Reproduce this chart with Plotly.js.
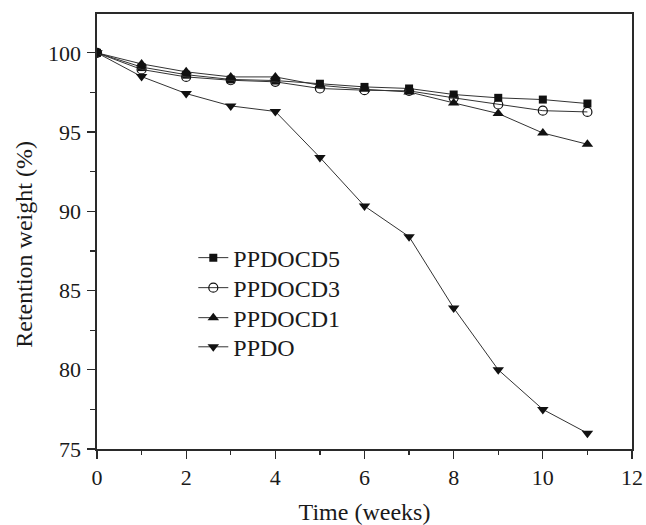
<!DOCTYPE html>
<html>
<head>
<meta charset="utf-8">
<script src="https://cdn.plot.ly/plotly-3.0.1.min.js"></script>
<style>
  html, body { margin: 0; padding: 0; background: #fff; }
  #chart { width: 646px; height: 525px; }
</style>
</head>
<body>
<div id="chart"></div>
<script>
// Data
const weeks = [0, 1, 2, 3, 4, 5, 6, 7, 8, 9, 10, 11];
const ppdocd5 = [100, 99.1, 98.62, 98.32, 98.25, 98.05, 97.85, 97.75, 97.37, 97.16, 97.05, 96.8];
const ppdocd3 = [100, 98.95, 98.48, 98.27, 98.17, 97.75, 97.64, 97.6, 97.16, 96.74, 96.35, 96.27];
const ppdocd1 = [100, 99.3, 98.8, 98.48, 98.48, 97.95, 97.7, 97.53, 96.84, 96.17, 94.94, 94.23];
const ppdo = [100, 98.5, 97.43, 96.65, 96.3, 93.4, 90.33, 88.4, 83.9, 80.0, 77.5, 76.0];
const seriesNames = ["PPDOCD5", "PPDOCD3", "PPDOCD1", "PPDO"];
const xTickVals = [0, 2, 4, 6, 8, 10, 12];
const yTickVals = [75, 80, 85, 90, 95, 100];

const FONT = "Liberation Serif";
const lineStyle = { color: "#333333", width: 1 };

const traces = [
  { x: weeks, y: ppdocd5, name: seriesNames[0], legend: "legend",
    marker: { symbol: "square", size: 8, color: "#111111" } },
  { x: weeks, y: ppdocd3, name: seriesNames[1], legend: "legend2",
    marker: { symbol: "circle-open", size: 9, color: "#111111", line: { width: 1.2 } } },
  { x: weeks, y: ppdocd1, name: seriesNames[2], legend: "legend3",
    marker: { symbol: "triangle-up", size: 10, color: "#111111" } },
  { x: weeks, y: ppdo, name: seriesNames[3], legend: "legend4",
    marker: { symbol: "triangle-down", size: 10, color: "#111111" } }
].map(t => Object.assign({ type: "scatter", mode: "lines+markers", line: lineStyle }, t));

const axisCommon = {
  showline: true, linecolor: "#2a2a2a", linewidth: 1.6, mirror: true,
  showgrid: false, zeroline: false,
  ticks: "outside", ticklen: 8, tickwidth: 1.3, tickcolor: "#2a2a2a",
  tickfont: { family: FONT, size: 22, color: "#1a1a1a" }
};

function legendAt(y) {
  return {
    x: 0.18, y: y, xanchor: "left", yanchor: "middle",
    bgcolor: "rgba(0,0,0,0)",
    font: { family: FONT, size: 24, color: "#1a1a1a" }
  };
}

const layout = {
  width: 646, height: 525,
  margin: { l: 97, r: 14, t: 14, b: 76 },
  paper_bgcolor: "#ffffff", plot_bgcolor: "#ffffff",
  font: { family: FONT },
  showlegend: true,
  legend: legendAt(0.439),
  legend2: legendAt(0.370),
  legend3: legendAt(0.301),
  legend4: legendAt(0.234),
  xaxis: Object.assign({}, axisCommon, {
    range: [0, 12], tickvals: xTickVals,
    minor: { dtick: 1, ticks: "outside", ticklen: 4, tickcolor: "#2a2a2a", tickwidth: 1.2 },
    title: { text: "Time (weeks)", font: { family: FONT, size: 24, color: "#1a1a1a" }, standoff: 14 }
  }),
  yaxis: Object.assign({}, axisCommon, {
    range: [75, 102.45], tickvals: yTickVals,
    ticklabelstandoff: 2,
    minor: { dtick: 2.5, ticks: "outside", ticklen: 5, tickcolor: "#2a2a2a", tickwidth: 1.2 }
  }),
  annotations: [{
    text: "Retention weight (%)", textangle: -90,
    xref: "paper", yref: "paper",
    x: -0.138, y: 0.47, xanchor: "center", yanchor: "middle",
    showarrow: false,
    font: { family: FONT, size: 24, color: "#1a1a1a" }
  }]
};

Plotly.newPlot("chart", traces, layout, { staticPlot: true, displayModeBar: false });
</script>
</body>
</html>
